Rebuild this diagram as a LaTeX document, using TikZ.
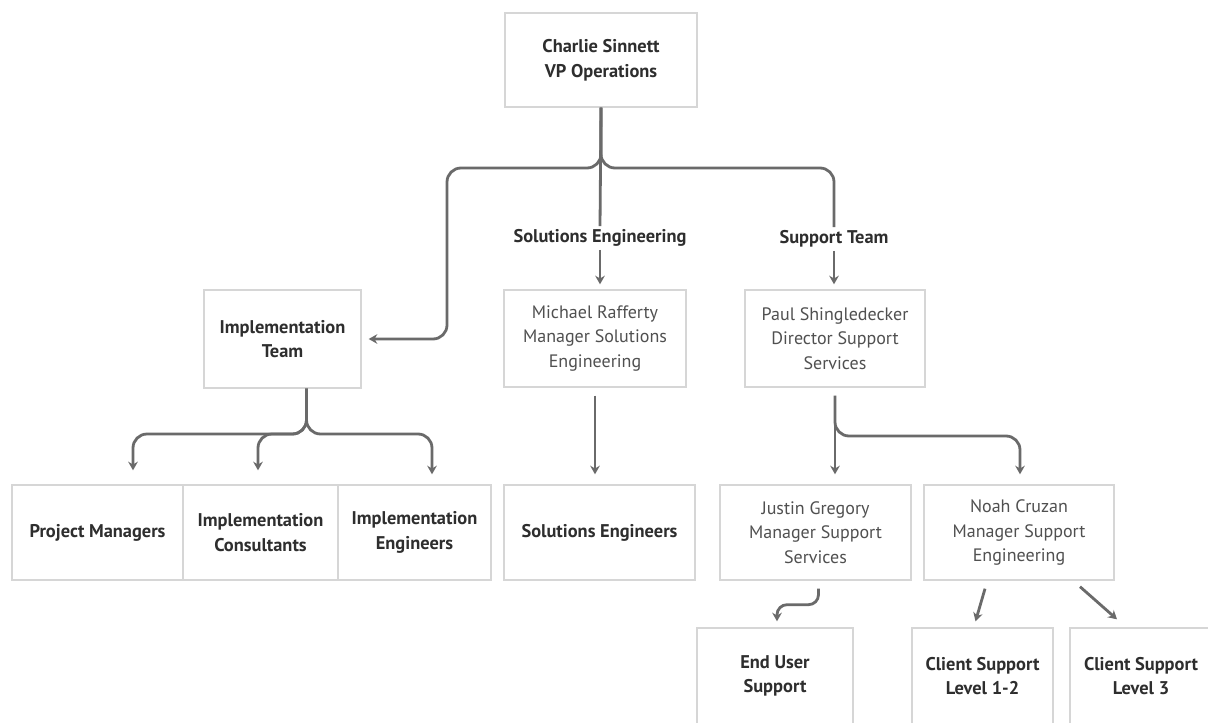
\documentclass[tikz,border=0pt]{standalone}
\usepackage{fontspec}
\setmainfont{PT Sans}
\usetikzlibrary{calc,arrows.meta,shadows}
\definecolor{linec}{HTML}{6A6A6A}
\definecolor{boxc}{HTML}{D6D6D6}
\definecolor{txtb}{HTML}{2E2E2E}
\definecolor{txtr}{HTML}{505050}
\begin{document}
\begin{tikzpicture}[x=0.5pt,y=-0.5pt,
  box/.style={draw=boxc, line width=0.7pt, fill=white, inner sep=0pt, align=center,
    font=\fontsize{9}{12.3}\selectfont, text=txtr,
    drop shadow={shadow xshift=0.7pt, shadow yshift=-0.7pt, opacity=0.10, fill=black}},
  bbox/.style={box, font=\fontsize{9.2}{12.3}\selectfont\bfseries, text=txtb},
  lbl/.style={fill=white, inner sep=1.5pt, font=\fontsize{9.2}{12.3}\selectfont\bfseries, text=txtb},
  wire/.style={draw=linec, line width=1.4pt, rounded corners=7pt},
  conn/.style={wire, -{Stealth[length=4.3pt,width=4.8pt]}}]
\useasboundingbox (0,0) rectangle (1208,722);
\clip (0,0) rectangle (1208,722);
\fill[white] (0,0) rectangle (1208,722);

% boxes
\node[bbox, minimum width=96pt, minimum height=47pt] (ceo) at (601,60) {Charlie Sinnett\\VP Operations};
\node[bbox, minimum width=78.5pt, minimum height=49pt] (impl) at (282.5,339) {Implementation\\Team};
\node[box, minimum width=91pt, minimum height=48.5pt] (mike) at (595,338.5) {Michael Rafferty\\Manager Solutions\\Engineering};
\node[box, minimum width=90pt, minimum height=48.5pt] (paul) at (835,338.5) {Paul Shingledecker\\Director Support\\Services};
\node[bbox, minimum width=85.5pt, minimum height=47.5pt] (pm) at (97.5,532.5) {Project Managers};
\node[bbox, minimum width=77.5pt, minimum height=47.5pt] (ic) at (260.5,532.5) {Implementation\\Consultants};
\node[bbox, minimum width=76.5pt, minimum height=47.5pt] (ie) at (414.5,532.5) {Implementation\\Engineers};
\node[bbox, minimum width=95.5pt, minimum height=47.5pt] (se) at (599.5,532.5) {Solutions Engineers};
\node[box, minimum width=95.5pt, minimum height=47.5pt] (justin) at (815.5,532.5) {Justin Gregory\\Manager Support\\Services};
\node[box, minimum width=95pt, minimum height=47.5pt] (noah) at (1019,532.5) {Noah Cruzan\\Manager Support\\Engineering};
\node[bbox, minimum width=78pt, minimum height=48pt] (eus) at (775,676) {End User\\Support};
\node[bbox, minimum width=70.5pt, minimum height=48pt] (cs12) at (982.5,676) {Client Support\\Level 1-2};
\node[bbox, minimum width=71pt, minimum height=48pt] (cs3) at (1141,676) {Client Support\\Level 3};

% labels
\node[lbl] (lse) at (600,238) {Solutions Engineering};
\node[lbl] (lst) at (834,239) {Support Team};

% top level connectors
\draw[conn, shorten >=3.5pt] (ceo.south) |- (447,168) |- (impl.east);
\draw[wire] (ceo.south) -- (lse.north);
\draw[conn, shorten >=2.5pt] (lse.south) -- (lse.south |- mike.north);
\draw[wire] (ceo.south) |- (834,168) -- (lst.north);
\draw[conn, shorten >=2.5pt] (lst.south) -- (lst.south |- paul.north);

% implementation team
\coordinate (it) at ($(impl.south)+(24,0)$);
\draw[conn, shorten >=7pt] (it) |- (133,434) -- (133,0 |- pm.north);
\draw[conn, shorten >=7pt] (it) |- (258,434) -- (258,0 |- ic.north);
\draw[conn, shorten >=5pt] (it) |- (432,434) -- (432,0 |- ie.north);

% solutions engineering
\draw[conn, shorten <=4pt, shorten >=5pt] (mike.south) -- (mike.south |- se.north);

% support
\draw[conn, shorten <=4pt, shorten >=5pt] (paul.south) -- (paul.south |- justin.north);
\draw[conn, shorten <=4pt, shorten >=5pt] (paul.south) |- (1020,436) -- (1020,0 |- noah.north);

% lower level
\draw[conn, rounded corners=5pt] ($(justin.south)+(3,8)$) -- ++(0,16) -| ($(eus.north)+(2,-6)$);
\draw[conn] ($(noah.south)+(-34,8)$) -- ($(cs12.north)+(-7,-6)$);
\draw[conn] ($(noah.south)+(61,6)$) -- ($(cs3.north)+(-24,-8)$);
\end{tikzpicture}
\end{document}
